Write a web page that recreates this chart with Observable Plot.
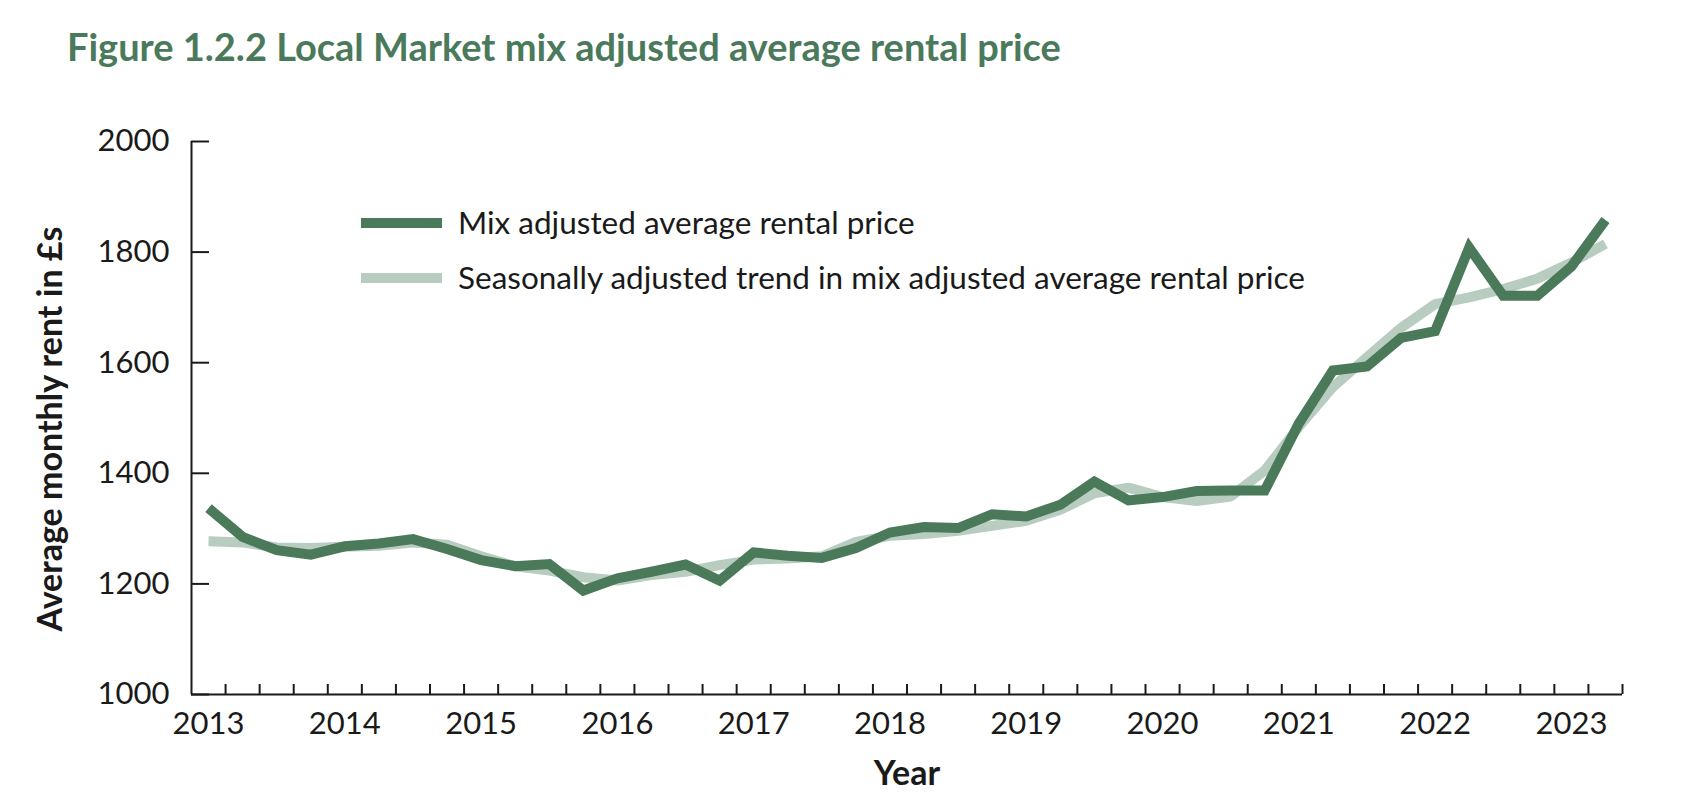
<!DOCTYPE html>
<html><head><meta charset="utf-8">
<script src="https://cdn.jsdelivr.net/npm/d3@7"></script>
<script src="https://cdn.jsdelivr.net/npm/@observablehq/plot@0.6"></script>
<style>
body{margin:0;background:#fff;}
#wrap{position:relative;width:1690px;height:804px;overflow:hidden;font-family:Lato,sans-serif;background:#fff;}
#title{position:relative;height:90px;}
#title span{position:absolute;left:67px;top:27px;font:700 38px/1 Lato,sans-serif;color:#4a7a5b;white-space:nowrap;}
.leg{position:absolute;left:361px;height:40px;display:flex;align-items:center;white-space:nowrap;}
.leg .sw{width:81px;height:10px;margin-right:16px;}
.leg .tx{font:400 31.5px/1 Lato,sans-serif;color:#1a1a1a;}
</style></head>
<body>
<div id="wrap">
  <div id="title"><span>Figure 1.2.2 Local Market mix adjusted average rental price</span></div>
  <div id="chart"></div>
  <div id="legend"></div>
</div>
<script>
const quarters = ["2013 Q1","2013 Q2","2013 Q3","2013 Q4","2014 Q1","2014 Q2","2014 Q3","2014 Q4",
  "2015 Q1","2015 Q2","2015 Q3","2015 Q4","2016 Q1","2016 Q2","2016 Q3","2016 Q4",
  "2017 Q1","2017 Q2","2017 Q3","2017 Q4","2018 Q1","2018 Q2","2018 Q3","2018 Q4",
  "2019 Q1","2019 Q2","2019 Q3","2019 Q4","2020 Q1","2020 Q2","2020 Q3","2020 Q4",
  "2021 Q1","2021 Q2","2021 Q3","2021 Q4","2022 Q1","2022 Q2","2022 Q3","2022 Q4",
  "2023 Q1","2023 Q2"];
const mixAdjusted = [1337,1285,1261,1253,1268,1273,1281,1263,1243,1232,1236,1188,1210,1222,1235,1206,
  1257,1251,1247,1265,1293,1303,1301,1326,1322,1343,1385,1351,1357,1368,1369,1369,
  1490,1586,1593,1645,1657,1808,1721,1721,1774,1858];
const seasonalTrend = [1277,1275,1266,1265,1267,1269,1275,1271,1250,1232,1224,1212,1206,1216,1222,1234,
  1244,1246,1250,1276,1287,1290,1296,1305,1314,1334,1364,1374,1357,1350,1358,1405,
  1484,1556,1610,1663,1706,1718,1733,1752,1781,1815];
const yearLabels = ["2013","2014","2015","2016","2017","2018","2019","2020","2021","2022","2023"];
const yTicks = [1000,1200,1400,1600,1800,2000];
const seriesNames = ["Mix adjusted average rental price","Seasonally adjusted trend in mix adjusted average rental price"];
const seriesColors = ["#4b7a5a","#b8cdbf"];
const yLabel = "Average monthly rent in £s";
const xLabel = "Year";

const rows = quarters.map((q,i)=>({q, i, mix: mixAdjusted[i], trend: seasonalTrend[i]}));
const W = 1690, H = 714, mT = 51, mB = 110, mL = 191, mR = 68;
const frameW = W - mL - mR, frameH = H - mT - mB;
const axisColor = "#1a1a1a";

const chart = Plot.plot({
  width: W, height: H,
  marginTop: mT, marginBottom: mB, marginLeft: mL, marginRight: mR,
  style: {fontFamily: "Lato, sans-serif", fontSize: "31px", color: axisColor, background: "#fff", overflow: "visible"},
  x: {type: "linear", domain: [0, quarters.length]},
  y: {type: "linear", domain: [yTicks[0], yTicks[yTicks.length-1]]},
  marks: [
    Plot.lineY(rows, {x: d => d.i + 0.5, y: "trend", stroke: seriesColors[1], strokeWidth: 10, strokeLinejoin: "miter", strokeLinecap: "butt"}),
    Plot.lineY(rows, {x: d => d.i + 0.5, y: "mix", stroke: seriesColors[0], strokeWidth: 10, strokeLinejoin: "miter", strokeMiterlimit: 10, strokeLinecap: "butt"}),
    Plot.ruleX([0], {stroke: axisColor, strokeWidth: 2}),
    Plot.ruleY([yTicks[0]], {stroke: axisColor, strokeWidth: 2}),
    Plot.tickY(yTicks, {y: d => d, stroke: axisColor, strokeWidth: 2, insetRight: frameW - 18}),
    Plot.tickX(quarters.map((q,i) => i + 1), {x: d => d, stroke: axisColor, strokeWidth: 2, insetTop: frameH - 10}),
    Plot.axisY(yTicks, {tickSize: 0, tickPadding: 22, tickFormat: d => String(d), fontSize: 31}),
    Plot.axisX(yearLabels.map(y => quarters.indexOf(y + " Q1") + 0.5), {tickSize: 0, tickPadding: 17, fontSize: 31,
      tickFormat: v => quarters[Math.floor(v)].slice(0,4)}),
    Plot.text([yLabel], {text: d => d, frameAnchor: "left", rotate: -90, dx: -140, dy: 11, fontSize: 34, fontWeight: 700, textAnchor: "middle", lineAnchor: "middle", fill: axisColor}),
    Plot.text([xLabel], {text: d => d, frameAnchor: "bottom", dy: 80, fontSize: 34, fontWeight: 700, textAnchor: "middle", lineAnchor: "middle", fill: axisColor})
  ]
});
document.getElementById("chart").appendChild(chart);

const legendTops = [203, 258];
const leg = document.getElementById("legend");
seriesNames.forEach((name, k) => {
  const row = document.createElement("div");
  row.className = "leg";
  row.style.top = legendTops[k] + "px";
  row.innerHTML = `<div class="sw" style="background:${seriesColors[k]}"></div><div class="tx">${name}</div>`;
  leg.appendChild(row);
});
</script>
</body></html>
